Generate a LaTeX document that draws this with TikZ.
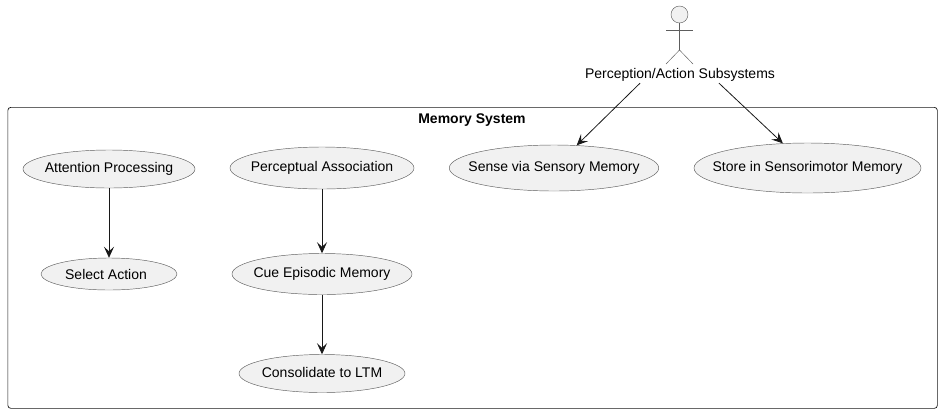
\documentclass[tikz,border=0pt]{standalone}
\usepackage{fontspec}
\setmainfont{Liberation Sans}
\usetikzlibrary{shapes.geometric,arrows.meta}
\definecolor{umlFill}{HTML}{F1F1F1}
\definecolor{umlLine}{HTML}{181818}
\newcommand{\caseText}[2][-.8pt]{\makebox[0pt][c]{\raisebox{#1}{#2}}}
\tikzset{
	usecase/.style n args={2}{ellipse,draw=umlLine!70,fill=umlFill,line width=.45pt,inner sep=0pt,
		minimum width=#1pt,minimum height=#2pt,font=\fontsize{14}{16}\selectfont},
	flow/.style={draw=umlLine,line width=.8pt,-{Stealth[length=11pt,width=10pt,inset=4.5pt]}},
	stick/.style={draw=umlLine!70,line width=.45pt}
}
\begin{document}
\begin{tikzpicture}[x=1pt,y=-1pt]
			\useasboundingbox (0,0) rectangle (941,413);
			%% system frame
			\node[draw=umlLine,line width=.7pt,rounded corners=3pt,minimum width=929.5pt,minimum height=301pt,inner sep=0pt,anchor=north west] (frame) at (7.5,107) {};
			\node[font=\fontsize{14}{16}\selectfont\bfseries] (title) at (472,120.5) {Memory System};
			%% actor
			\node[circle,stick,fill=umlFill,minimum size=17pt,inner sep=0pt] (head) at (679.5,14.5) {};
			\coordinate (hip) at (679.5,50);
			\coordinate (armL) at (666,30);
			\coordinate (armR) at (693,30);
			\coordinate (footL) at (666,64);
			\coordinate (footR) at (693,64);
			\draw[stick] (head.south) -- (hip);
			\draw[stick] (armL) -- (armR);
			\draw[stick] (footL) -- (hip) -- (footR);
			\node[font=\fontsize{14}{16}\selectfont,inner sep=0pt,minimum height=16pt] (subsystems) at (680,75) {Perception/Action Subsystems};
			%% use cases
			\node[usecase={172}{38}] (attention) at (109,169) {\caseText[0pt]{Attention Processing}};
			\node[usecase={136}{32}] (select) at (109,274) {\caseText[0pt]{Select Action\kern6pt}};
			\node[usecase={184}{42}] (perceptual) at (322,168) {\caseText{Perceptual Association}};
			\node[usecase={180}{41}] (cue) at (322,274) {\caseText{Cue Episodic Memory}};
			\node[usecase={166}{38}] (consolidate) at (322,373.5) {\caseText[1.2pt]{Consolidate to LTM}};
			\node[usecase={209.5}{46}] (sense) at (554,168) {\caseText{Sense via Sensory Memory}};
			\node[usecase={227}{50}] (store) at (807.5,168) {\caseText{Store in Sensorimotor Memory}};
			%% connectors
			\draw[flow] (attention) -- (select);
			\draw[flow] (perceptual) -- (cue);
			\draw[flow] (cue) -- (consolidate);
			\draw[flow] ([xshift=-40pt]subsystems.south) -- (sense.45);
			\draw[flow] ([xshift=39pt]subsystems.south) -- (store.135);
\end{tikzpicture}
\end{document}
